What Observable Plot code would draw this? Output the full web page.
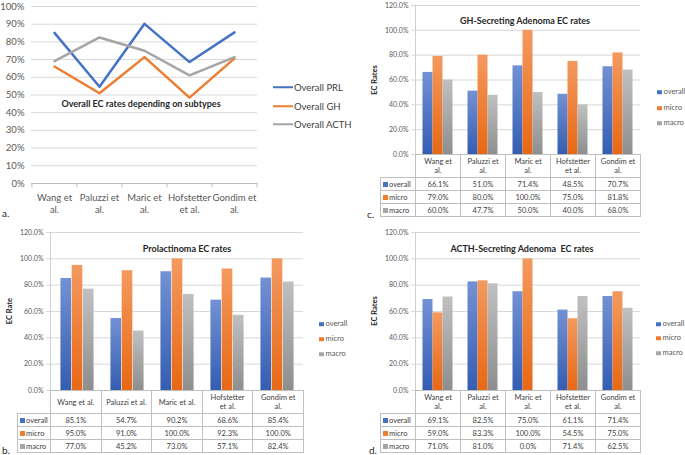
<!DOCTYPE html>
<html><head><meta charset="utf-8">
<script src="https://cdn.jsdelivr.net/npm/d3@7"></script>
<script src="https://cdn.jsdelivr.net/npm/@observablehq/plot@0.6"></script>
<style>
body{margin:0;background:#fff;font-family:Lato,"Liberation Sans",sans-serif;}
#fig{position:relative;width:685px;height:455px;overflow:hidden;background:#fff;}
.abs{position:absolute;white-space:nowrap;line-height:1;}
.title{font-weight:bold;font-size:9px;color:#262626;transform:translate(-50%,-50%);}
.ylab{font-weight:bold;font-size:7.5px;color:#262626;transform:translate(-50%,-50%) rotate(-90deg);}
.plab{font-size:10px;color:#262626;transform:translateY(-50%);}
.leg{font-size:7.5px;color:#595959;transform:translateY(-50%);}
.leg i{display:inline-block;width:4.5px;height:4.5px;margin-right:2px;vertical-align:0px;}
.lleg{font-size:9.5px;color:#404040;transform:translateY(-50%);}
.lleg i{display:inline-block;width:20px;height:2.5px;margin-right:1px;vertical-align:3px;}
table.dt{position:absolute;border-collapse:collapse;font-size:7.5px;color:#404040;table-layout:fixed;}
table.dt td{border:1px solid #bfbfbf;text-align:center;padding:0;line-height:9px;white-space:nowrap;overflow:hidden;}
table.dt td.blank{border:none;}
table.dt td.lab{text-align:left;padding-left:2px;}
table.dt td.lab i{display:inline-block;width:4.5px;height:4.5px;margin-right:1.5px;}
svg.plt{position:absolute;}
</style></head>
<body><div id="fig"></div>
<script>
// ---------- data ----------
const studies = ["Wang et al.","Paluzzi et al.","Maric et al.","Hofstetter et al.","Gondim et al."];
const labelsWrapped = ["Wang et\nal.","Paluzzi et\nal.","Maric et\nal.","Hofstetter\net al.","Gondim et\nal."];
const labelsProl = ["Wang et al.","Paluzzi et al.","Maric et al.","Hofstetter\net al.","Gondim et\nal."];
const seriesNames = ["overall","micro","macro"];
const lineSeries = ["Overall PRL","Overall GH","Overall ACTH"];

const prlOverall = [85.1,54.7,90.2,68.6,85.4];
const prlMicro   = [95.0,91.0,100.0,92.3,100.0];
const prlMacro   = [77.0,45.2,73.0,57.1,82.4];
const ghOverall  = [66.1,51.0,71.4,48.5,70.7];
const ghMicro    = [79.0,80.0,100.0,75.0,81.8];
const ghMacro    = [60.0,47.7,50.0,40.0,68.0];
const acthOverall= [69.1,82.5,75.0,61.1,71.4];
const acthMicro  = [59.0,83.3,100.0,54.5,75.0];
const acthMacro  = [71.0,81.0,0.0,71.4,62.5];

const pctTicks  = [0,20,40,60,80,100,120];
const lineTicks = [0,10,20,30,40,50,60,70,80,90,100];

const barColors = ["#4472C4","#ED7D31","#A5A5A5"];
const gradFills = ["url(#gBlue)","url(#gOrange)","url(#gGray)"];

// ---------- helpers ----------
const fig = document.getElementById("fig");
fig.insertAdjacentHTML("beforeend", `<svg width="0" height="0" style="position:absolute"><defs>
<linearGradient id="gBlue" x1="0" y1="0" x2="0" y2="1"><stop offset="0" stop-color="#7391d4"/><stop offset="1" stop-color="#345db2"/></linearGradient>
<linearGradient id="gOrange" x1="0" y1="0" x2="0" y2="1"><stop offset="0" stop-color="#f39a60"/><stop offset="1" stop-color="#e86814"/></linearGradient>
<linearGradient id="gGray" x1="0" y1="0" x2="0" y2="1"><stop offset="0" stop-color="#c0c0c0"/><stop offset="1" stop-color="#8e8e8e"/></linearGradient>
</defs></svg>`);

function txt(cls, x, y, s) {
  const d = document.createElement("div");
  d.className = "abs " + cls;
  d.style.left = x + "px"; d.style.top = y + "px";
  d.innerHTML = s;
  fig.appendChild(d);
  return d;
}
function place(svg, left, top) {
  svg.classList.add("plt");
  svg.style.left = left + "px"; svg.style.top = top + "px";
  fig.appendChild(svg);
}

// ---------- panel a: line chart ----------
(function(){
  const width = 345, height = 220, ml = 31, mr = 88, mt = 6, mb = 37;
  const band = (width - ml - mr) / studies.length;
  const vals = [prlOverall, ghOverall, acthOverall];
  const rows = [];
  lineSeries.forEach((name, j) => studies.forEach((s, i) => rows.push({series: name, study: s, value: vals[j][i]})));
  const svg = Plot.plot({
    width, height, marginLeft: ml, marginRight: mr, marginTop: mt, marginBottom: mb,
    style: {background: "transparent", overflow: "visible", fontFamily: "Lato", fontSize: "9.5px", color: "#595959"},
    x: {type: "point", domain: studies, padding: 0.5, axis: null},
    y: {domain: [0, 100], axis: null},
    color: {domain: lineSeries, range: barColors},
    marks: [
      Plot.ruleY(lineTicks.filter(d => d > 0), {stroke: "#d9d9d9"}),
      Plot.ruleY([0], {stroke: "#bfbfbf"}),
      Plot.ruleX(studies, {x: d => d, dx: -band / 2, y1: 0, y2: -2.5, stroke: "#bfbfbf"}),
      Plot.ruleX(studies.slice(-1), {x: d => d, dx: band / 2, y1: 0, y2: -2.5, stroke: "#bfbfbf"}),
      Plot.axisY({ticks: lineTicks, tickSize: 0, tickPadding: 7, label: null, tickFormat: d => d + "%"}),
      Plot.axisX({tickSize: 0, tickPadding: 9, lineHeight: 1.25, label: null, tickFormat: d => labelsWrapped[studies.indexOf(d)]}),
      Plot.line(rows, {x: "study", y: "value", z: "series", stroke: "series", strokeWidth: 2.5})
    ]
  });
  place(svg, 0, 0);
  txt("title", 141, 103, "Overall EC rates depending on subtypes");
  lineSeries.forEach((s, j) => txt("lleg", 273, [88, 107, 125][j], `<i style="background:${barColors[j]}"></i>${s}`));
  txt("plab", 2, 213, "a.");
})();

// ---------- bar panels ----------
function barPanel(cfg) {
  const {left, top, width, height, ml, mr, mt, mb, vals} = cfg;
  const band = (width - ml - mr) / studies.length;
  const bw = band * 2 / 9, pad = band / 6;
  const rows = studies.map((s, i) => ({study: s, overall: vals[0][i], micro: vals[1][i], macro: vals[2][i]}));
  const svg = Plot.plot({
    width, height, marginLeft: ml, marginRight: mr, marginTop: mt, marginBottom: mb,
    style: {background: "transparent", overflow: "visible", fontFamily: "Lato", fontSize: "7px", color: "#595959"},
    x: {type: "band", domain: studies, padding: 0, axis: null},
    y: {domain: [0, 120], axis: null},
    marks: [
      Plot.ruleY(pctTicks, {stroke: "#d9d9d9", insetLeft: -4}),
      Plot.frame({anchor: "left", stroke: "#d0d0d0"}),
      Plot.axisY({ticks: pctTicks, tickSize: 0, tickPadding: 7, label: null, tickFormat: d => d.toFixed(1) + "%"}),
      ...seriesNames.map((k, j) => Plot.barY(rows, {
        x: "study", y: k, fill: gradFills[j],
        insetLeft: pad + j * bw, insetRight: band - pad - (j + 1) * bw
      }))
    ]
  });
  place(svg, left, top);
}

function makeTable({left, top, labelW, colW, headH, rowH, headers, vals}) {
  const t = document.createElement("table");
  t.className = "dt";
  t.style.left = left + "px"; t.style.top = top + "px";
  t.style.width = (labelW + colW * headers.length) + "px";
  let html = `<colgroup><col style="width:${labelW}px">` + headers.map(() => `<col style="width:${colW}px">`).join("") + `</colgroup>`;
  html += `<tr style="height:${headH}px"><td class="blank"></td>` + headers.map(h => `<td>${h.replace("\n", "<br>")}</td>`).join("") + `</tr>`;
  seriesNames.forEach((s, j) => {
    html += `<tr style="height:${rowH}px"><td class="lab"><i style="background:${barColors[j]}"></i>${s}</td>` +
      vals[j].map(v => `<td>${v.toFixed(1)}%</td>`).join("") + `</tr>`;
  });
  t.innerHTML = html;
  fig.appendChild(t);
}
function barLegend(x, ys) {
  seriesNames.forEach((s, j) => txt("leg", x, ys[j], `<i style="background:${barColors[j]}"></i>${s}`));
}

// panel c: GH
barPanel({left: 345, top: 0, width: 300, height: 158, ml: 70, mr: 5, mt: 5, mb: 4, vals: [ghOverall, ghMicro, ghMacro]});
makeTable({left: 380, top: 154, labelW: 35, colW: 45, headH: 23, rowH: 13, headers: labelsWrapped, vals: [ghOverall, ghMicro, ghMacro]});
txt("title", 525, 20, "GH-Secreting Adenoma EC rates");
txt("ylab", 375, 80, "EC Rates");
barLegend(657, [92, 108, 123]);
txt("plab", 367, 214, "c.");

// panel b: Prolactinoma
barPanel({left: 0, top: 225, width: 310, height: 170, ml: 50, mr: 7, mt: 7, mb: 5, vals: [prlOverall, prlMicro, prlMacro]});
makeTable({left: 17, top: 390, labelW: 33, colW: 50.6, headH: 23, rowH: 13, headers: labelsProl, vals: [prlOverall, prlMicro, prlMacro]});
txt("title", 187, 248, "Prolactinoma EC rates");
txt("ylab", 10, 311, "EC Rate");
barLegend(319, [324, 339, 354]);
txt("plab", 2, 450, "b.");

// panel d: ACTH
barPanel({left: 345, top: 225, width: 300, height: 170, ml: 70, mr: 5, mt: 7, mb: 5, vals: [acthOverall, acthMicro, acthMacro]});
makeTable({left: 380, top: 390, labelW: 35, colW: 45, headH: 23, rowH: 13, headers: labelsWrapped, vals: [acthOverall, acthMicro, acthMacro]});
txt("title", 522, 248, "ACTH-Secreting Adenoma &nbsp;EC rates");
txt("ylab", 375, 311, "EC Rates");
barLegend(656, [324, 338, 353]);
txt("plab", 369, 450, "d.");
</script>
</body></html>
